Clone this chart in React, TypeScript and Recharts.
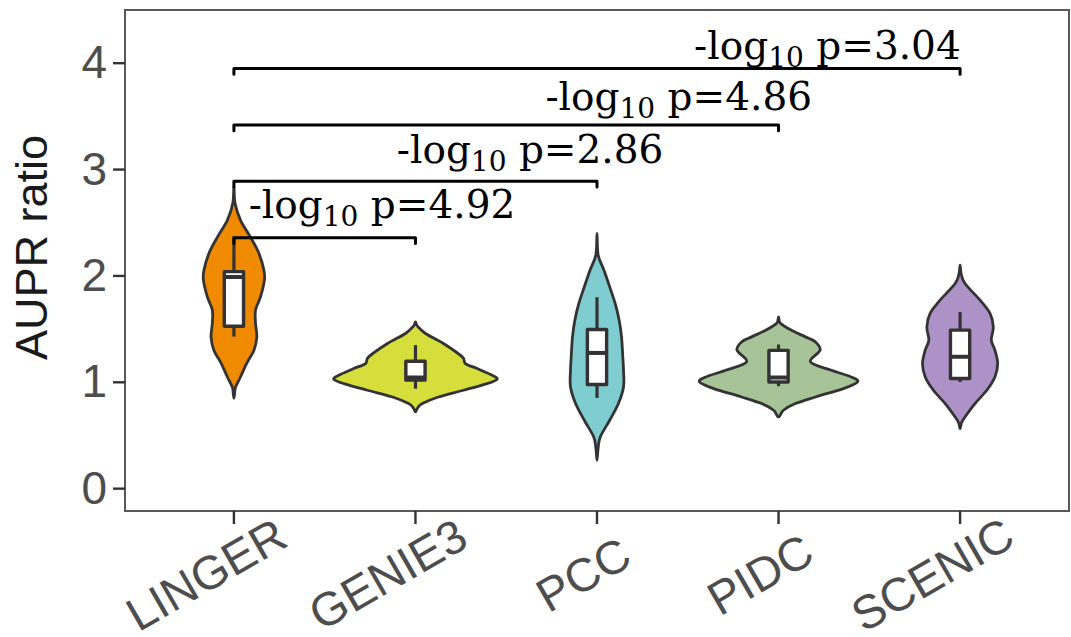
import React from 'react';
import { ScatterChart, Scatter, XAxis, YAxis, ReferenceArea } from 'recharts';

const methods = ['LINGER', 'GENIE3', 'PCC', 'PIDC', 'SCENIC'];
const fillColors = ['#f08a00', '#d6de3b', '#80cdd1', '#a7c498', '#ad92c8'];

// violin profiles: [AUPR ratio, half width in category units], lower tip -> upper tip
const lingerViolin: [number, number][] = [
  [0.85, 0], [0.9, 0.004], [0.955, 0.009], [1.05, 0.036], [1.18, 0.071], [1.3, 0.11],
  [1.425, 0.126], [1.555, 0.119], [1.68, 0.119], [1.8, 0.146], [1.96, 0.168], [2.055, 0.165],
  [2.215, 0.137], [2.365, 0.091], [2.525, 0.036], [2.685, 0.006], [2.845, 0],
];
const genie3Violin: [number, number][] = [
  [0.721, 0], [0.76, 0.012], [0.8, 0.038], [0.862, 0.126], [0.925, 0.264], [0.988, 0.395],
  [1.029, 0.45], [1.066, 0.423], [1.129, 0.34], [1.176, 0.275], [1.239, 0.258], [1.365, 0.154],
  [1.459, 0.055], [1.53, 0.01], [1.568, 0],
];
const pccViolin: [number, number][] = [
  [0.266, 0], [0.377, 0.006], [0.486, 0.018], [0.643, 0.07], [0.8, 0.118], [0.956, 0.146],
  [1.113, 0.146], [1.271, 0.141], [1.427, 0.135], [1.584, 0.122], [1.741, 0.1], [1.897, 0.07],
  [2.055, 0.038], [2.2, 0.006], [2.4, 0],
];
const pidcViolin: [number, number][] = [
  [0.674, 0], [0.737, 0.027], [0.8, 0.093], [0.862, 0.203], [0.941, 0.357], [1.003, 0.435],
  [1.05, 0.401], [1.113, 0.291], [1.192, 0.176], [1.302, 0.229], [1.38, 0.203], [1.427, 0.148],
  [1.49, 0.071], [1.556, 0.01], [1.615, 0],
];
const scenicViolin: [number, number][] = [
  [0.565, 0], [0.62, 0.008], [0.674, 0.027], [0.8, 0.082], [0.925, 0.147], [1.05, 0.192],
  [1.176, 0.207], [1.302, 0.192], [1.396, 0.172], [1.521, 0.183], [1.647, 0.165], [1.772, 0.11],
  [1.929, 0.027], [2.02, 0.006], [2.102, 0],
];
const violins = [lingerViolin, genie3Violin, pccViolin, pidcViolin, scenicViolin];

// box plot summaries per method
const whiskerLow = [1.43, 0.94, 0.853, 0.963, 1.003];
const q1 = [1.527, 1.02, 0.979, 1.003, 1.035];
const medians = [1.99, 1.045, 1.276, 1.045, 1.24];
const q3 = [2.04, 1.198, 1.497, 1.3, 1.49];
const whiskerHigh = [2.37, 1.35, 1.8, 1.355, 1.66];
const boxHalf = 0.053;

// pairwise tests of LINGER against the other methods
const comparedWith = [2, 3, 4, 5];
const bracketLevels = [2.36, 2.89, 3.42, 3.95];
const negLogP = ['4.92', '2.86', '4.86', '3.04'];
const pLabelX = [1.081, 1.897, 2.716, 3.535];
const pLabelY = [2.544, 3.059, 3.56, 4.04];
const bracketDrop = 0.055;

const tickFont = "'Liberation Sans', Arial, sans-serif";
const outline = '#333333';

type Pt = { x: number; y: number };

// closed Catmull-Rom spline through the outline points
function smoothClosed(pts: Pt[]): string {
  const n = pts.length;
  let d = `M${pts[0].x},${pts[0].y}`;
  for (let i = 0; i < n; i++) {
    const p0 = pts[(i - 1 + n) % n];
    const p1 = pts[i];
    const p2 = pts[(i + 1) % n];
    const p3 = pts[(i + 2) % n];
    const c1x = p1.x + (p2.x - p0.x) / 6;
    const c1y = p1.y + (p2.y - p0.y) / 6;
    const c2x = p2.x - (p3.x - p1.x) / 6;
    const c2y = p2.y - (p3.y - p1.y) / 6;
    d += ` C${c1x},${c1y} ${c2x},${c2y} ${p2.x},${p2.y}`;
  }
  return d + 'Z';
}

function straightClosed(pts: Pt[]): string {
  return 'M' + pts.map((p) => `${p.x},${p.y}`).join('L') + 'Z';
}

const noDot = () => <g />;

function violinOutline(profile: [number, number][], center: number) {
  const right = profile.map(([v, w]) => ({ x: center + w, y: v }));
  const left = profile
    .slice(1, -1)
    .reverse()
    .map(([v, w]) => ({ x: center - w, y: v }));
  return [...right, ...left];
}

function renderCategoryTick(props: any) {
  const { x, y, payload } = props;
  const label = methods[payload.value - 1];
  if (!label) return <g />;
  const approxWidth = label.length * 0.62 * 47;
  const cx = x - 0.16 * approxWidth;
  const cy = y + 50;
  return (
    <text
      x={cx}
      y={cy}
      dy="0.36em"
      textAnchor="middle"
      transform={`rotate(-30 ${cx} ${cy})`}
      fontFamily={tickFont}
      fontSize={47}
      fill="#4d4d4d"
    >
      {label}
    </text>
  );
}

function renderValueTick(props: any) {
  const { x, y, payload } = props;
  return (
    <text x={x} y={y} dy={15} textAnchor="end" fontFamily={tickFont} fontSize={46} fill="#4d4d4d">
      {payload.value}
    </text>
  );
}

function renderYTitle(props: any) {
  const vb = props.viewBox || { x: 0, y: 10, width: 125, height: 500 };
  const tx = vb.x + 47;
  const ty = vb.y + vb.height / 2 - 13;
  return (
    <text
      x={tx}
      y={ty}
      textAnchor="middle"
      transform={`rotate(-90 ${tx} ${ty})`}
      fontFamily={tickFont}
      fontSize={45}
      fill="#1a1a1a"
    >
      AUPR ratio
    </text>
  );
}

function PValueLabel(props: any) {
  const { cx, cy, payload } = props;
  return (
    <text x={cx} y={cy} fontFamily="'DejaVu Serif', serif" fontSize={39} fill="#000">
      -log
      <tspan fontSize={28} dy={8}>
        10
      </tspan>
      <tspan dy={-8}>{' p=' + payload.p}</tspan>
    </text>
  );
}

export default function App() {
  const pLabels = negLogP.map((p, i) => ({ x: pLabelX[i], y: pLabelY[i], p }));

  return (
    <div style={{ position: 'absolute', left: 0, top: 0, background: '#fff' }}>
      <ScatterChart width={1071} height={637} margin={{ top: 10, right: 2, bottom: 0, left: 0 }}>
        <XAxis
          type="number"
          dataKey="x"
          domain={[0.4, 5.6]}
          allowDataOverflow
          ticks={[1, 2, 3, 4, 5]}
          interval={0}
          height={126}
          tickSize={13}
          tickMargin={0}
          axisLine={false}
          tickLine={{ stroke: '#333', strokeWidth: 2.4 }}
          tick={renderCategoryTick}
        />
        <YAxis
          type="number"
          dataKey="y"
          domain={[-0.21, 4.5]}
          allowDataOverflow
          ticks={[0, 1, 2, 3, 4]}
          interval={0}
          width={125}
          tickSize={12}
          tickMargin={6}
          axisLine={false}
          tickLine={{ stroke: '#333', strokeWidth: 2.4 }}
          tick={renderValueTick}
          label={renderYTitle}
        />
        <ReferenceArea
          x1={0.4}
          x2={5.6}
          y1={-0.21}
          y2={4.5}
          fill="none"
          fillOpacity={0}
          stroke="#595959"
          strokeWidth={2}
          ifOverflow="visible"
        />

        {methods.map((m, i) => (
          <Scatter
            key={`violin-${m}`}
            data={violinOutline(violins[i], i + 1)}
            shape={noDot}
            isAnimationActive={false}
            line={(lp: any) => (
              <path d={smoothClosed(lp.points)} fill={fillColors[i]} stroke={outline} strokeWidth={2.8} />
            )}
          />
        ))}

        {methods.map((m, i) => (
          <Scatter
            key={`whisker-${m}`}
            data={[
              { x: i + 1, y: whiskerLow[i] },
              { x: i + 1, y: whiskerHigh[i] },
            ]}
            shape={noDot}
            isAnimationActive={false}
            line={{ stroke: outline, strokeWidth: 3.2 }}
            lineJointType="linear"
          />
        ))}

        {methods.map((m, i) => (
          <Scatter
            key={`box-${m}`}
            data={[
              { x: i + 1 - boxHalf, y: q1[i] },
              { x: i + 1 + boxHalf, y: q1[i] },
              { x: i + 1 + boxHalf, y: q3[i] },
              { x: i + 1 - boxHalf, y: q3[i] },
            ]}
            shape={noDot}
            isAnimationActive={false}
            line={(lp: any) => (
              <path d={straightClosed(lp.points)} fill="#fff" stroke={outline} strokeWidth={3.4} strokeLinejoin="round" />
            )}
          />
        ))}

        {methods.map((m, i) => (
          <Scatter
            key={`median-${m}`}
            data={[
              { x: i + 1 - boxHalf, y: medians[i] },
              { x: i + 1 + boxHalf, y: medians[i] },
            ]}
            shape={noDot}
            isAnimationActive={false}
            line={{ stroke: outline, strokeWidth: 4 }}
            lineJointType="linear"
          />
        ))}

        {comparedWith.map((target, i) => (
          <Scatter
            key={`bracket-${target}`}
            data={[
              { x: 1, y: bracketLevels[i] - bracketDrop },
              { x: 1, y: bracketLevels[i] },
              { x: target, y: bracketLevels[i] },
              { x: target, y: bracketLevels[i] - bracketDrop },
            ]}
            shape={noDot}
            isAnimationActive={false}
            line={{ stroke: '#000', strokeWidth: 3, strokeLinecap: 'round', strokeLinejoin: 'round' }}
            lineJointType="linear"
          />
        ))}

        <Scatter
          data={pLabels}
          isAnimationActive={false}
          shape={(props: any) => <PValueLabel {...props} />}
        />
      </ScatterChart>
    </div>
  );
}
